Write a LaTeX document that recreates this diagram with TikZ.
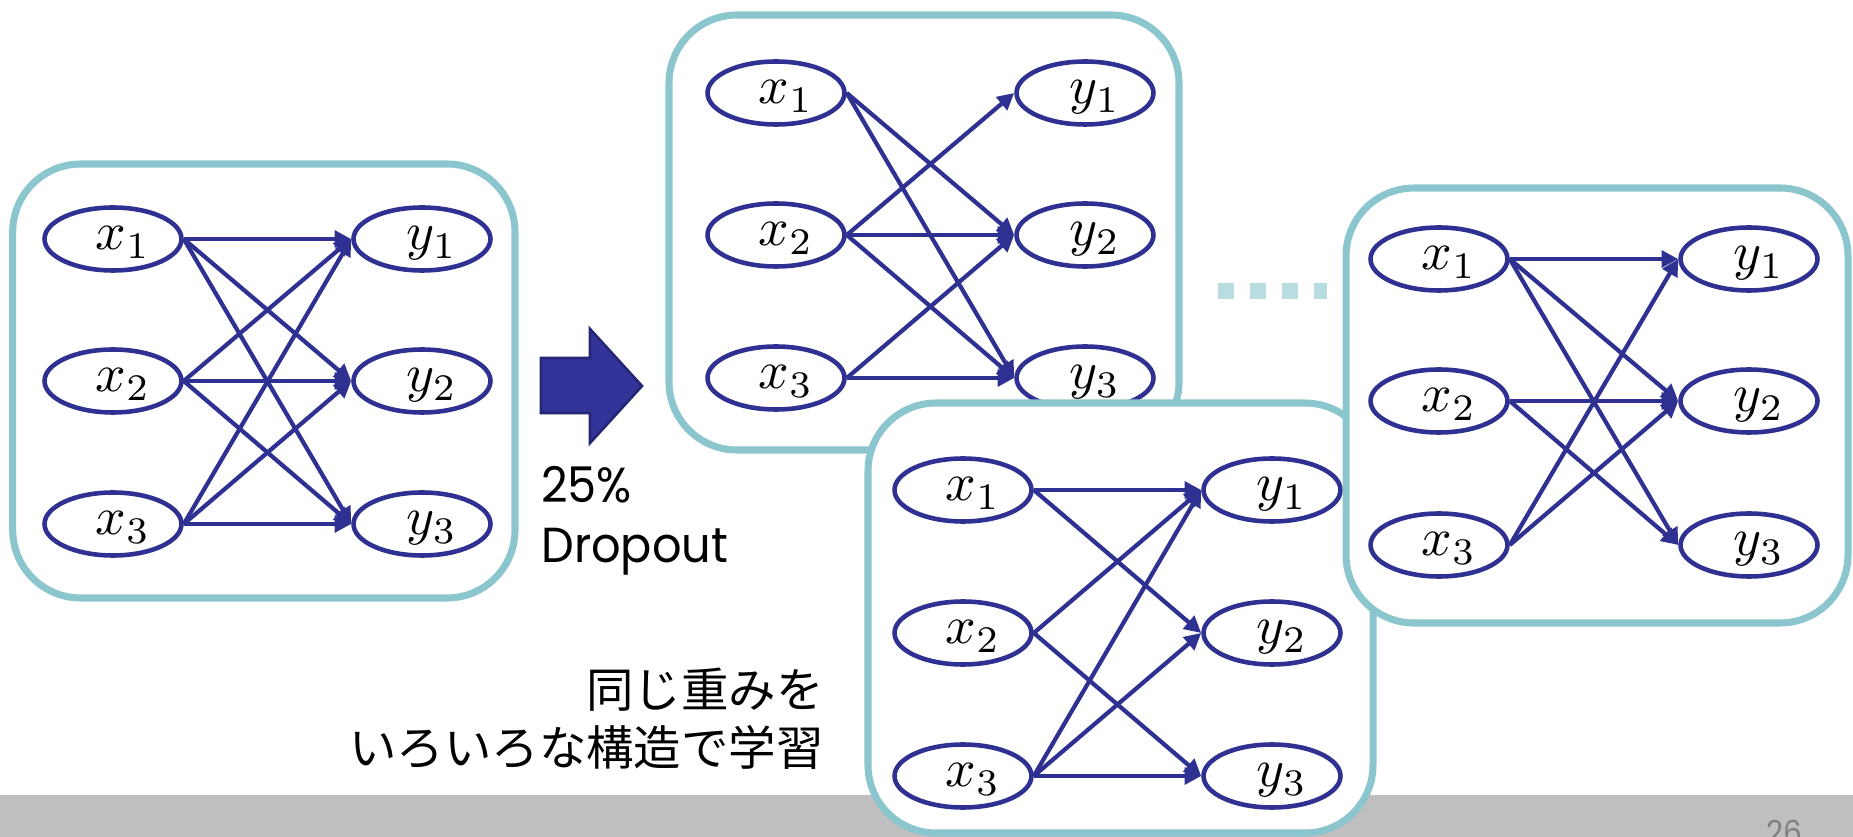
\documentclass[tikz,border=0pt]{standalone}
\usepackage{graphicx}
\usepackage{fontspec}
\newfontfamily\latinsans[FakeStretch=0.94]{Poppins}
\newfontfamily\jpfont{Noto Sans CJK JP}
\usetikzlibrary{arrows.meta,shapes.geometric}

\definecolor{netblue}{RGB}{46,49,146}
\definecolor{panelteal}{RGB}{139,198,206}
\definecolor{dotteal}{RGB}{183,221,225}
\definecolor{bargray}{RGB}{191,191,191}
\definecolor{arrowfill}{RGB}{51,51,153}
\definecolor{arrowedge}{RGB}{38,38,118}
\definecolor{pagegray}{RGB}{128,128,128}

\tikzset{
  panelbox/.style={draw=panelteal, line width=4pt, fill=white, rounded corners=1.36cm},
  unit/.style={ellipse, draw=netblue, line width=2.6pt, minimum width=2.74cm,
    minimum height=1.26cm, inner sep=0pt, text height=0.5cm, text depth=0.06cm},
  link/.style={draw=netblue, line width=2.4pt, -{Triangle[length=9.5pt,width=9.5pt]}},
  dotsq/.style={fill=dotteal, draw=none},
  caption/.style={anchor=base west, inner sep=0pt, font=\latinsans\fontsize{28}{32}\selectfont},
  note/.style={anchor=base east, inner sep=0pt, font=\jpfont\fontsize{27}{32}\selectfont},
}

% one layer of three inputs and three outputs
\newcommand{\netunits}[4]{%
  \foreach \i/\r in {#4}{%
    \node[unit] (#1x\i) at (#2,\r) {\kern0.4cm\scalebox{3.05}{$x_{\i}$}};
    \node[unit] (#1y\i) at (#3,\r) {\kern0.4cm\scalebox{3.05}{$y_{\i}$}};
  }}
% weighted connections that survive the dropout
\newcommand{\netlinks}[2]{%
  \foreach \s/\t in {#2}{\draw[link] (#1x\s.east) -- (#1y\t.west);}}

\begin{document}
\begin{tikzpicture}[x={(0.02cm,0)}, y={(0,-0.02cm)}]
\useasboundingbox (0,0) rectangle (1853,837);
\clip (0,0) rectangle (1853,837);

% footer bar and page number
\fill[bargray] (0,795) rectangle (1853,837);
\node[anchor=base west, text=pagegray, inner sep=0pt,
  font=\latinsans\fontsize{18}{20}\selectfont] (pageno) at (1766,843) {26};

% full network
\draw[panelbox] (12.7,164) rectangle (515,598);
\netunits{a}{113}{422}{1/239,2/381,3/524}
\netlinks{a}{1/1,1/2,1/3,2/1,2/2,2/3,3/1,3/2,3/3}

% block arrow and caption
\draw[fill=arrowfill, draw=arrowedge, line width=1.5pt, line join=miter]
  (541,358) -- (590,358) -- (590,329) -- (642,386) -- (590,443) -- (590,413) -- (541,413) -- cycle;
\node[caption] (rate) at (541,503) {25\%};
\node[caption] (drop) at (541,562) {Dropout};

% Japanese note
\node[note] (note1) at (824,707) {同じ重みを};
\node[note] (note2) at (824,765) {いろいろな構造で学習};

% thinned network, variant 1
\draw[panelbox] (669,15) rectangle (1179,450);
\netunits{b}{776}{1085}{1/93,2/235,3/378}
\netlinks{b}{1/2,1/3,2/1,2/2,2/3,3/2,3/3}

% thinned network, variant 2
\draw[panelbox] (868,403) rectangle (1373,833);
\netunits{c}{963}{1272}{1/490,2/633,3/776}
\netlinks{c}{1/1,1/2,2/1,2/3,3/1,3/2,3/3}

% ellipsis squares
\fill[dotsq] (1218,283) rectangle (1234,299);
\fill[dotsq] (1250,283) rectangle (1266,299);
\fill[dotsq] (1282,283) rectangle (1298,299);
\fill[dotsq] (1314,283) rectangle (1327,299);

% thinned network, variant 3
\draw[panelbox] (1346,188) rectangle (1848,623);
\netunits{d}{1439}{1749}{1/259,2/401,3/545}
\netlinks{d}{1/1,1/2,1/3,2/2,2/3,3/1,3/2}
\end{tikzpicture}
\end{document}
